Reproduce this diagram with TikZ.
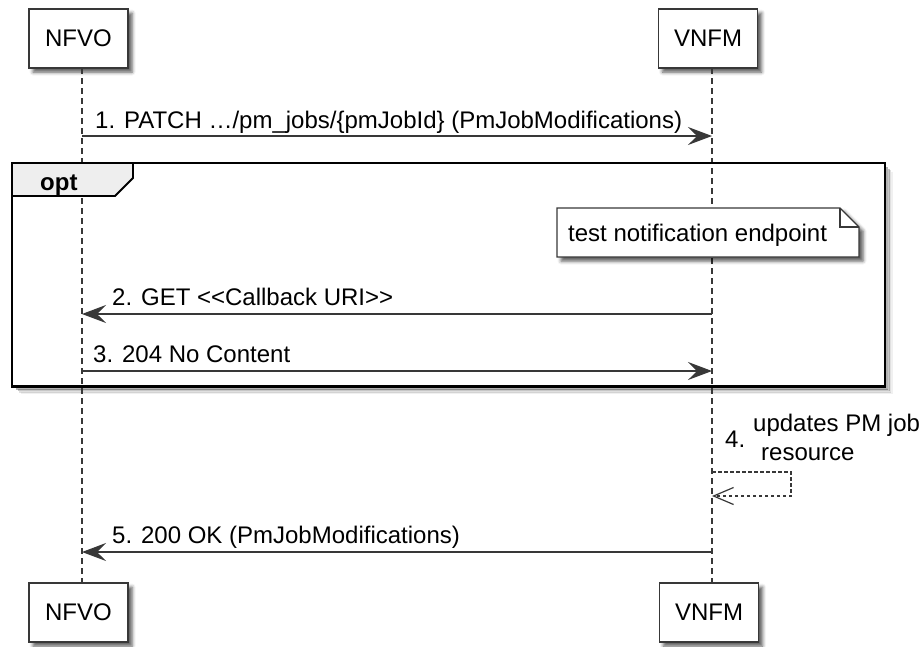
\documentclass[tikz,border=0pt]{standalone}
\usepackage{fontspec}
\setmainfont{Liberation Sans}
\usetikzlibrary{arrows.meta,shadows.blur}
\definecolor{ln}{HTML}{383838}
\definecolor{tabgray}{HTML}{EEEEEE}
\begin{document}
\begin{tikzpicture}[x=1pt,y=-1pt,
  font=\fontsize{24}{28}\selectfont,
  shd/.style={blur shadow={shadow xshift=4pt,shadow yshift=-4pt,shadow blur radius=3.5pt,shadow opacity=65}},
  part/.style={draw=ln,line width=1.5pt,fill=white,minimum width=99pt,minimum height=59pt,inner sep=0pt,shd},
  life/.style={draw=ln,line width=1.2pt,dash pattern=on 6pt off 4pt},
  msg/.style={draw=ln,line width=1.2pt,-{Stealth[length=24pt,width=18pt,inset=9pt]}},
  selfmsg/.style={draw=ln,line width=1.2pt,dash pattern=on 3.5pt off 2.5pt,-{Straight Barb[length=20pt,width=17pt,line width=1.2pt]}},
  lbl/.style={anchor=base west,inner sep=0pt,text=black},
]
\useasboundingbox (0,0) rectangle (923,646);

% frame shadow
\foreach \d/\o in {2/0.3,3.5/0.22,5/0.12,6.5/0.06}{
  \draw[line width=2pt,draw=black,opacity=\o] (885+\d,163+\d+2) -- (885+\d,386.5+\d) -- (12+\d+2,386.5+\d);
}

% participants
\node[part] (nfvoA) at (78.5,38.5) {NFVO};
\node[part] (vnfmA) at (708,38.5) {VNFM};
\node[part] (nfvoB) at (78.5,612.5) {NFVO};
\node[part] (vnfmB) at (709,612.5) {VNFM};

% lifelines
\coordinate (nfvoT) at (82,68);
\coordinate (nfvoE) at (82,583);
\coordinate (vnfmT) at (712,68);
\coordinate (vnfmE) at (712,583);
\draw[life] (nfvoT) -- (nfvoE);
\draw[life] (vnfmT) -- (vnfmE);

% message anchors
\coordinate (m1a) at (82,136);   \coordinate (m1b) at (712,136);
\coordinate (m2a) at (712,314);  \coordinate (m2b) at (82,314);
\coordinate (m3a) at (82,371);   \coordinate (m3b) at (712,371);
\coordinate (m4a) at (712,472);  \coordinate (m4c) at (791,472);
\coordinate (m4d) at (791,496);  \coordinate (m4b) at (712,496);
\coordinate (m5a) at (712,552);  \coordinate (m5b) at (82,552);

% messages
\draw[msg] (m1a) -- (m1b);
\node[lbl] (l1) at (95,128) {1. PATCH …/pm\_jobs/\{pmJobId\} (PmJobModifications)};

% opt frame tab
\filldraw[fill=tabgray,draw=black,line width=1.8pt] (12,163) -- (133,163) -- (133,178) -- (115,196) -- (12,196) -- cycle;
\node[lbl,font=\fontsize{24}{28}\selectfont\bfseries] (opt) at (40,190) {opt};
\draw[black,line width=2.6pt] (12,163) rectangle (885,386.5);

% note
\path[fill=white,draw=ln,line width=1.2pt,shd]
  (557,208) -- (840,208) -- (859,227) -- (859,257) -- (557,257) -- cycle;
\draw[ln,line width=1.2pt] (840,208) -- (840,227) -- (859,227);
\node[lbl] (note) at (568,241.5) {test notification endpoint};

\draw[msg] (m2a) -- (m2b);
\node[lbl] (l2) at (112,305) {2. GET <{}<Callback URI>{}>};
\draw[msg] (m3a) -- (m3b);
\node[lbl] (l3) at (93,362.5) {3. 204 No Content};

\draw[selfmsg] (m4a) -- (m4c) -- (m4d) -- (m4b);
\node[lbl] (l4n) at (725,447) {4.};
\node[lbl] (l4a) at (753,431.5) {updates PM job};
\node[lbl] (l4b) at (761,460.5) {resource};

\draw[msg] (m5a) -- (m5b);
\node[lbl] (l5) at (112,543.5) {5. 200 OK (PmJobModifications)};
\end{tikzpicture}
\end{document}
